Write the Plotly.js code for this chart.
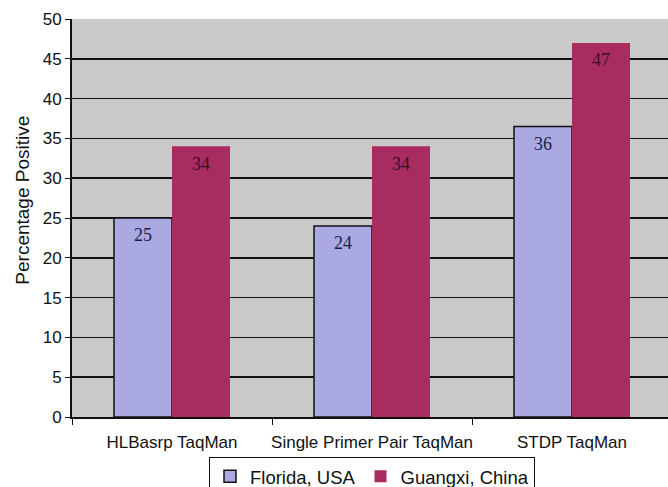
<!DOCTYPE html>
<html>
<head>
<meta charset="utf-8">
<script src="https://cdn.plot.ly/plotly-3.0.1.min.js"></script>
<style>html,body{margin:0;padding:0;background:#fff;overflow:hidden;}#chart{width:668px;height:487px;overflow:hidden;}</style>
</head>
<body>
<div id="chart"></div>
<script>
const categories = ["HLBasrp TaqMan", "Single Primer Pair TaqMan", "STDP TaqMan"];
const floridaValues = [25, 24, 36.5];
const floridaLabels = ["25", "24", "36"];
const guangxiValues = [34, 34, 47];
const guangxiLabels = ["34", "34", "47"];
const yTicks = [0, 5, 10, 15, 20, 25, 30, 35, 40, 45, 50];

const SANS = "Arial";
const SERIF = "Times New Roman";

function labelTrace(values, labels, group, color) {
  return {
    type: "scatter", mode: "markers+text", x: categories, y: values, text: labels,
    textposition: "bottom center", offsetgroup: group, showlegend: false,
    marker: {size: 14, opacity: 0},
    textfont: {family: SERIF, size: 18, color: color},
    hoverinfo: "none", cliponaxis: false
  };
}

const traces = [
  {
    type: "bar", name: "Florida, USA", x: categories, y: floridaValues, offsetgroup: "fl",
    marker: {color: "#aaa9e2", line: {color: "#111111", width: 1.5}},
    hoverinfo: "none"
  },
  {
    type: "bar", name: "Guangxi, China", x: categories, y: guangxiValues, offsetgroup: "gx",
    marker: {color: "#a82c60", line: {color: "#a82c60", width: 0}},
    hoverinfo: "none"
  },
  labelTrace(floridaValues, floridaLabels, "fl", "#1c1c4a"),
  labelTrace(guangxiValues, guangxiLabels, "gx", "#3a1028")
];

const layout = {
  width: 672, height: 487,
  margin: {l: 72, r: 0, t: 19, b: 70},
  paper_bgcolor: "#ffffff",
  plot_bgcolor: "#c9c9c9",
  font: {family: SANS, size: 17, color: "#111111"},
  barmode: "group", bargap: 0.42, bargroupgap: 0,
  scattermode: "group", scattergap: 0.42,
  showlegend: true,
  legend: {
    orientation: "h", x: 0.5, xanchor: "center", yref: "container", y: 0.062, yanchor: "top",
    bordercolor: "#111111", borderwidth: 1, bgcolor: "#ffffff",
    font: {family: SANS, size: 18.5}, itemwidth: 20, tracegroupgap: 0
  },
  xaxis: {
    type: "category", tickson: "boundaries", ticks: "outside", ticklen: 6,
    tickcolor: "#111111", showline: true, linecolor: "#111111", linewidth: 2,
    showgrid: false, tickangle: 0, automargin: false,
    tickfont: {family: SANS, size: 17}, ticklabelstandoff: 9, fixedrange: true
  },
  yaxis: {
    range: [0, 50], tickvals: yTicks, ticks: "outside", ticklen: 5,
    tickcolor: "#111111", showline: true, linecolor: "#111111", linewidth: 2,
    showgrid: true, gridcolor: "#111111", gridwidth: 1.5, zeroline: false,
    tickfont: {family: SANS, size: 17}, automargin: false,
    fixedrange: true
  },
  annotations: [{
    text: "Percentage Positive", xref: "paper", yref: "paper", x: -0.084, y: 0.545,
    xanchor: "center", yanchor: "middle", textangle: -90, showarrow: false,
    font: {family: SANS, size: 19, color: "#111111"}
  }]
};

Plotly.newPlot("chart", traces, layout, {displayModeBar: false, staticPlot: true});
</script>
</body>
</html>
